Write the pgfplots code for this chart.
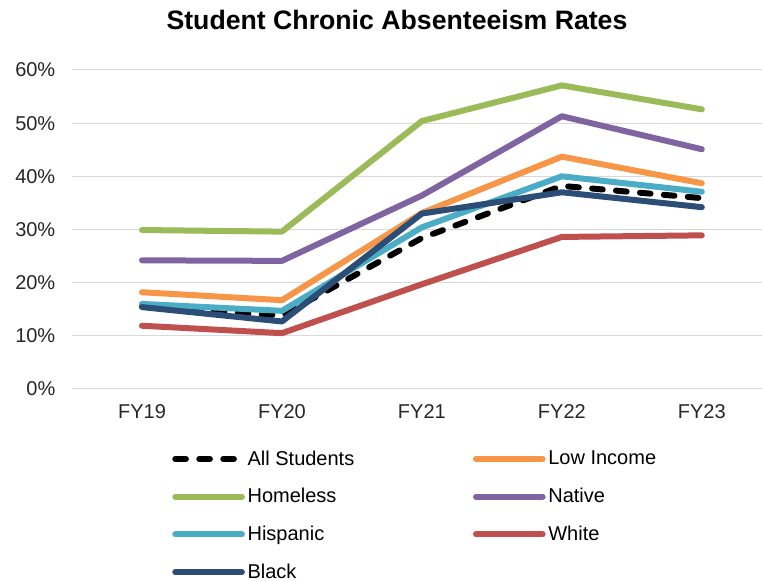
\documentclass[border=0pt]{standalone}
\usepackage{fontspec}
\setmainfont{Liberation Sans}
\usepackage{pgfplots}
\pgfplotsset{compat=1.18}

\definecolor{gridgray}{HTML}{D9D9D9}
\definecolor{cLow}{HTML}{F79646}
\definecolor{cHome}{HTML}{9BBB59}
\definecolor{cNative}{HTML}{8064A2}
\definecolor{cHisp}{HTML}{4BACC6}
\definecolor{cWhite}{HTML}{C0504D}
\definecolor{cBlack}{HTML}{2C4D75}

\begin{document}
\begin{tikzpicture}
\begin{axis}[
    name=ax,
    scale only axis,
    width=517.5pt,
    height=239.25pt,
    xmin=-0.5, xmax=4.43,
    ymin=0, ymax=60,
    xtick={0,1,2,3,4},
    xticklabels={FY19,FY20,FY21,FY22,FY23},
    ytick={0,10,...,60},
    yticklabel={\pgfmathprintnumber{\tick}\%},
    /pgf/number format/assume math mode=true,
    axis line style={draw=none},
    major tick length=0pt,
    ymajorgrids,
    grid style={draw=gridgray, line width=0.75pt},
    tick label style={font=\fontsize{15}{18}\selectfont, text=black!85},
    yticklabel style={xshift=-9pt},
    xticklabel style={yshift=-8pt},
    legend columns=2,
    legend cell align=left,
    legend style={draw=none, fill=none,
        at={(rel axis cs:0,0)}, anchor=north west,
        xshift=72pt, yshift=-42pt,
        font=\fontsize{15}{18}\selectfont,
        row sep=12pt,
        /tikz/every even column/.append style={column sep=87pt}},
    legend image code/.code={\draw[#1] (0pt,0pt) -- (50pt,0pt);},
    every axis plot/.append style={line width=4.5pt, line cap=round, line join=round},
]

\addplot[black, dash pattern=on 8pt off 10pt] coordinates {(0,15.5) (1,13.8) (2,28.4) (3,38.2) (4,35.9)};
\addlegendentry{All Students}

\addplot[cLow] coordinates {(0,18.2) (1,16.7) (2,33.1) (3,43.7) (4,38.7)};
\addlegendentry{Low Income}

\addplot[cHome] coordinates {(0,29.9) (1,29.6) (2,50.4) (3,57.1) (4,52.6)};
\addlegendentry{Homeless}

\addplot[cNative] coordinates {(0,24.2) (1,24.1) (2,36.4) (3,51.3) (4,45.1)};
\addlegendentry{Native}

\addplot[cHisp] coordinates {(0,16.0) (1,14.7) (2,30.4) (3,40.0) (4,37.1)};
\addlegendentry{Hispanic}

\addplot[cWhite] coordinates {(0,11.9) (1,10.5) (2,19.7) (3,28.6) (4,28.9)};
\addlegendentry{White}

\addplot[cBlack] coordinates {(0,15.4) (1,12.7) (2,33.0) (3,37.0) (4,34.2)};
\addlegendentry{Black}

\end{axis}
\node[font=\bfseries\fontsize{20}{24}\selectfont] at ([shift={(243.75pt,276.75pt)}]ax.south west) {Student Chronic Absenteeism Rates};
\pgfresetboundingbox
\path[use as bounding box] ([shift={(-54pt,-144pt)}]ax.south west) rectangle ([shift={(0pt,291.75pt)}]ax.south east);
\end{tikzpicture}
\end{document}
